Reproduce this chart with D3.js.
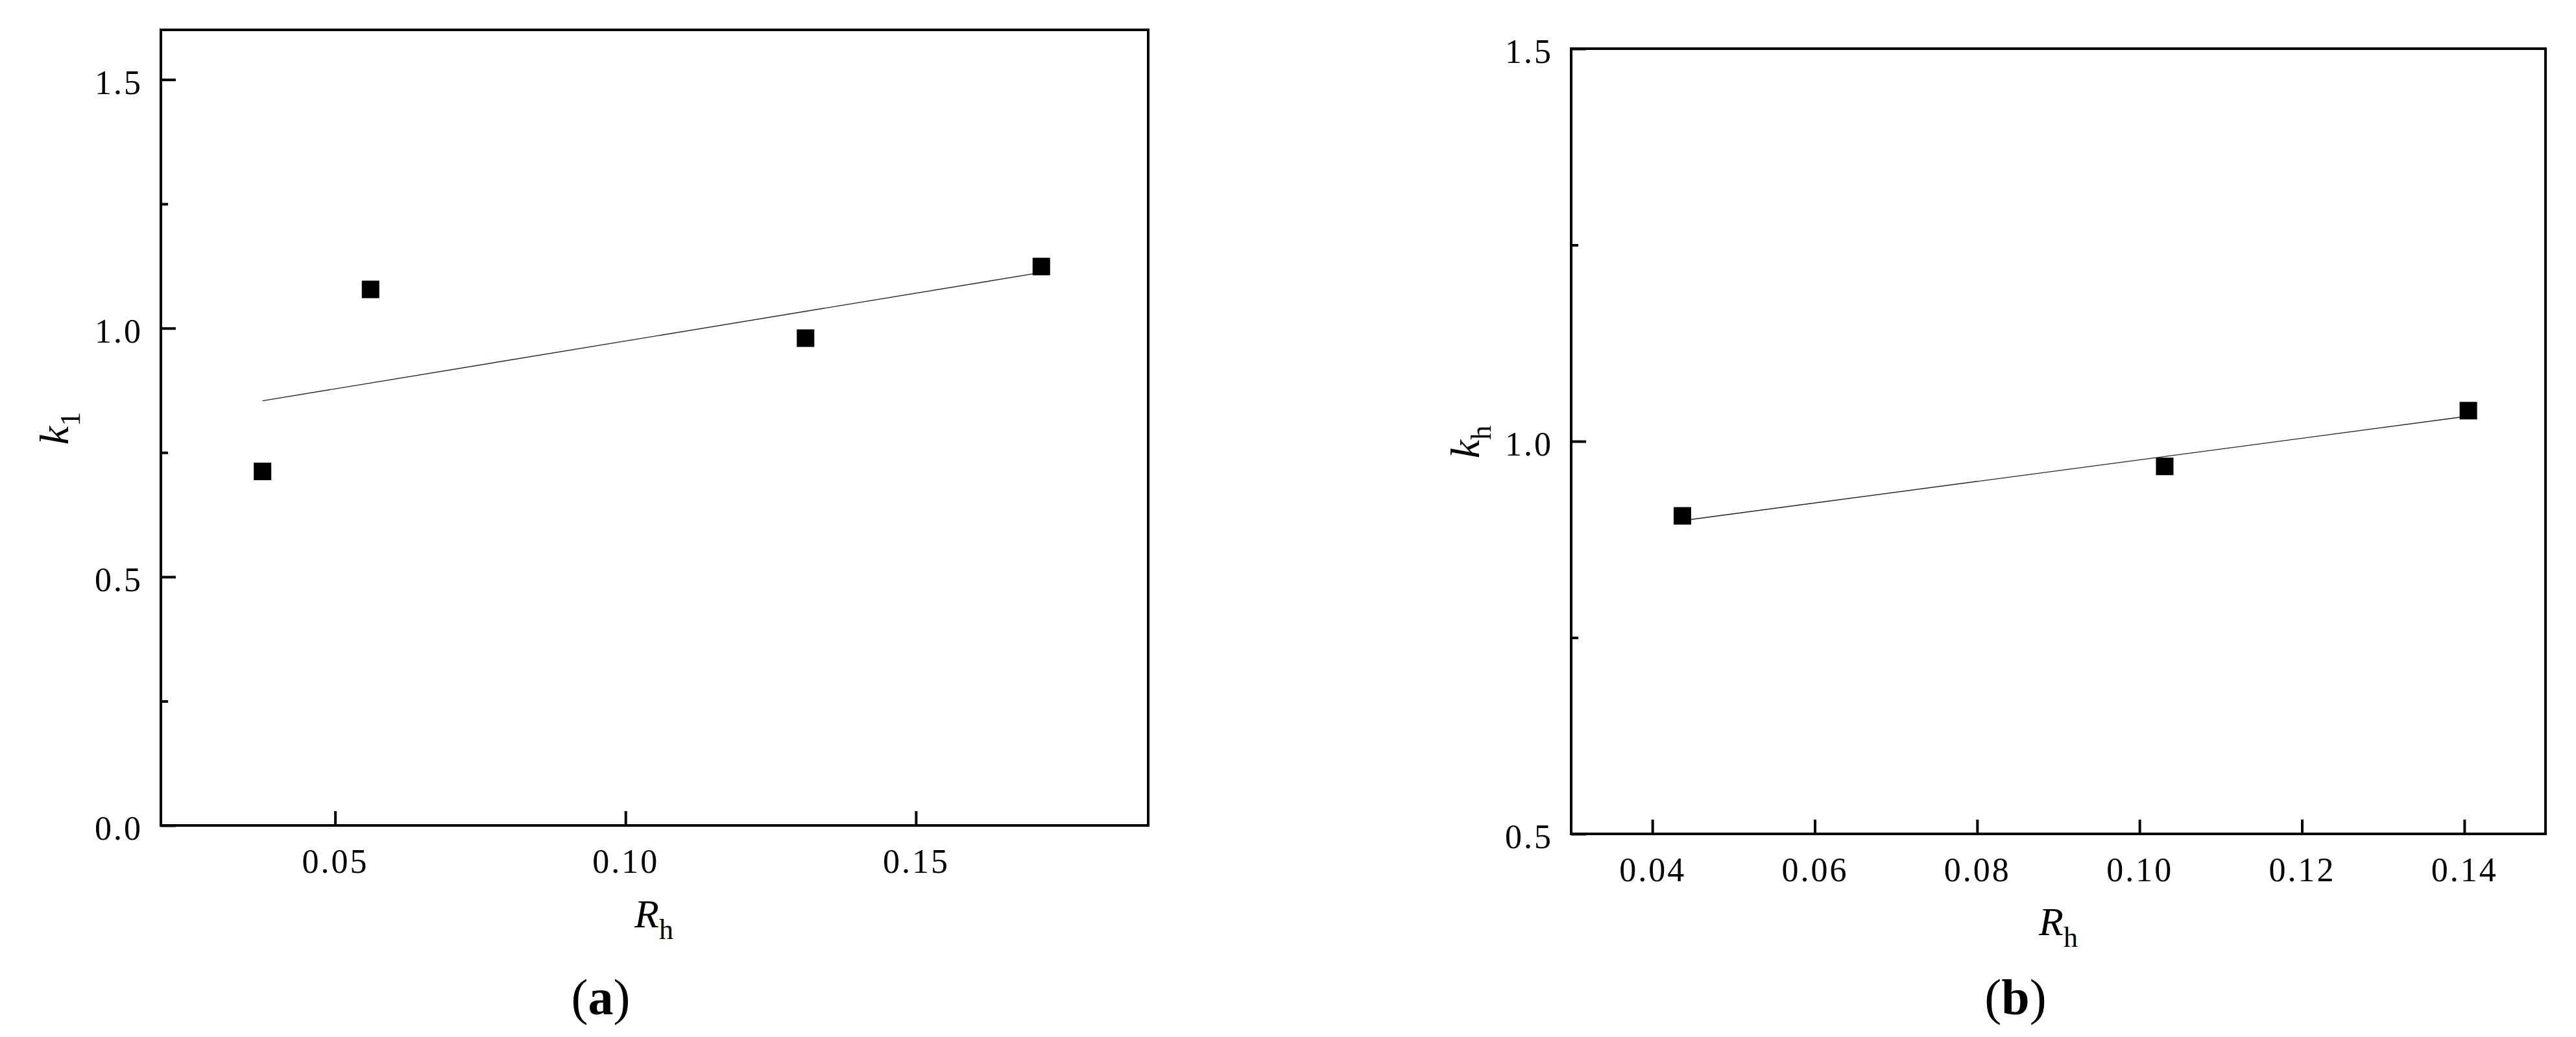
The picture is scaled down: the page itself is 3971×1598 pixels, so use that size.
<!DOCTYPE html>
<html>
<head>
<meta charset="utf-8">
<script src="https://cdn.jsdelivr.net/npm/d3@7"></script>
<style>
  html, body { margin: 0; padding: 0; background: #fff; }
  svg { display: block; }
</style>
</head>
<body>
<div id="chart"></div>
<script>
// panel (a): k1 vs Rh
var aRh = [0.0375, 0.0561, 0.131, 0.1716];
var aK1 = [0.712, 1.078, 0.980, 1.124];
var aFitRh = [0.0375, 0.1716];
var aFitK = [0.854, 1.112];
var aXTicks = [0.05, 0.10, 0.15];
var aYTicks = [0.0, 0.5, 1.0, 1.5];
var aYMinor = [0.25, 0.75, 1.25];

// panel (b): kh vs Rh
var bRh = [0.0437, 0.1031, 0.1405];
var bKh = [0.905, 0.968, 1.039];
var bFitRh = [0.0437, 0.1405];
var bFitK = [0.899, 1.032];
var bXTicks = [0.04, 0.06, 0.08, 0.10, 0.12, 0.14];
var bYTicks = [0.5, 1.0, 1.5];
var bYMinor = [0.75, 1.25];

var width = 3971, height = 1598;
var font = "'Liberation Serif', 'Times New Roman', serif";

var svg = d3.select("#chart")
  .append("svg")
  .attr("width", width)
  .attr("height", height);

function panel(opt) {
  var x = d3.scaleLinear().domain(opt.xDomain).range([opt.left, opt.right]);
  var y = d3.scaleLinear().domain(opt.yDomain).range([opt.bottom, opt.top]);
  var g = svg.append("g");

  // x ticks (inward)
  var xa = g.append("g")
    .attr("transform", `translate(0,${opt.bottom})`)
    .call(d3.axisBottom(x).tickValues(opt.xTicks).tickSize(-22).tickPadding(36)
      .tickFormat(d3.format(".2f")));

  // y ticks, major + minor
  var ya = g.append("g")
    .attr("transform", `translate(${opt.left},0)`)
    .call(d3.axisLeft(y).tickValues(opt.yTicks).tickSize(-23).tickPadding(28)
      .tickFormat(d3.format(".1f")));
  g.append("g")
    .attr("transform", `translate(${opt.left},0)`)
    .call(d3.axisLeft(y).tickValues(opt.yMinor).tickSize(-11).tickFormat(""))
    .call(s => s.select(".domain").remove())
    .selectAll("line").attr("stroke", "#000").attr("stroke-width", 4);

  [xa, ya].forEach(function (a) {
    a.select(".domain").remove();
    a.selectAll("line").attr("stroke", "#000").attr("stroke-width", 4);
    a.selectAll("text")
      .attr("fill", "#000")
      .style("font-family", font)
      .style("font-size", "52px")
      .style("letter-spacing", "3px");
  });
  ya.selectAll("text").attr("dy", "0.42em");

  // frame
  g.append("rect")
    .attr("x", opt.left)
    .attr("y", opt.top)
    .attr("width", opt.right - opt.left)
    .attr("height", opt.bottom - opt.top)
    .attr("fill", "none")
    .attr("stroke", "#000")
    .attr("stroke-width", 4);

  // fitted line
  var line = d3.line().x(d => x(d[0])).y(d => y(d[1]));
  g.append("path")
    .datum(d3.zip(opt.fitX, opt.fitY))
    .attr("d", line)
    .attr("fill", "none")
    .attr("stroke", "#222")
    .attr("stroke-width", 1.4);

  // square markers
  var s = 27;
  g.selectAll("rect.pt")
    .data(d3.zip(opt.xs, opt.ys))
    .enter()
    .append("rect")
    .attr("class", "pt")
    .attr("x", d => x(d[0]) - s / 2)
    .attr("y", d => y(d[1]) - s / 2)
    .attr("width", s)
    .attr("height", s)
    .attr("fill", "#000");

  // x label  R_h
  var xl = g.append("text")
    .attr("x", opt.xLabelX)
    .attr("y", opt.xLabelY)
    .style("font-family", font)
    .attr("fill", "#000");
  xl.append("tspan").style("font-style", "italic").style("font-size", "62px").text("R");
  xl.append("tspan").style("font-size", "44px").attr("dy", 18).text("h");

  // y label  k_sub
  var yl = g.append("text")
    .attr("transform", `translate(${opt.yLabelX},${opt.yLabelY}) rotate(-90)`)
    .attr("text-anchor", "middle")
    .style("font-family", font)
    .attr("fill", "#000");
  yl.append("tspan").style("font-style", "italic").style("font-size", "64px").text("k");
  yl.append("tspan").style("font-size", "44px").attr("dy", 18).text(opt.ySub);

  // caption
  var cap = svg.append("text")
    .attr("x", opt.capX)
    .attr("y", 1563)
    .attr("text-anchor", "middle")
    .style("font-family", font)
    .style("font-size", "78px")
    .attr("fill", "#000");
  cap.append("tspan").text("(");
  cap.append("tspan").style("font-weight", "bold").text(opt.cap);
  cap.append("tspan").text(")");
}

panel({
  left: 248, right: 1770, top: 46, bottom: 1272,
  xDomain: [0.02, 0.19], yDomain: [0, 1.6],
  xTicks: aXTicks, yTicks: aYTicks, yMinor: aYMinor,
  xs: aRh, ys: aK1, fitX: aFitRh, fitY: aFitK,
  xLabelX: 978, xLabelY: 1429,
  yLabelX: 105, yLabelY: 660, ySub: "1",
  capX: 926, cap: "a"
});

panel({
  left: 2422, right: 3924, top: 75, bottom: 1285,
  xDomain: [0.03, 0.15], yDomain: [0.5, 1.5],
  xTicks: bXTicks, yTicks: bYTicks, yMinor: bYMinor,
  xs: bRh, ys: bKh, fitX: bFitRh, fitY: bFitK,
  xLabelX: 3143, xLabelY: 1441,
  yLabelX: 2280, yLabelY: 681, ySub: "h",
  capX: 3107, cap: "b"
});
</script>
</body>
</html>
